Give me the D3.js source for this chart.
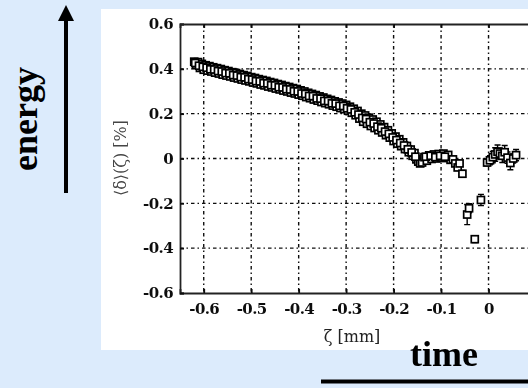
<!DOCTYPE html>
<html>
<head>
<meta charset="utf-8">
<script src="https://cdn.jsdelivr.net/npm/d3@7"></script>
<style>
  html, body { margin: 0; padding: 0; background: #dcebfc; }
  svg { display: block; }
</style>
</head>
<body>
<svg id="fig" width="528" height="388"></svg>
<script>
// Mean energy offset <delta>(zeta) along the bunch, in percent (first pass)
const zeta = [
  -0.620,-0.616,-0.612,-0.608,-0.604,-0.600,-0.596,-0.592,-0.588,-0.584,
  -0.580,-0.576,-0.572,-0.568,-0.564,-0.560,-0.556,-0.552,-0.548,-0.544,
  -0.540,-0.536,-0.532,-0.528,-0.524,-0.520,-0.516,-0.512,-0.508,-0.504,
  -0.500,-0.496,-0.492,-0.488,-0.484,-0.480,-0.476,-0.472,-0.468,-0.464,
  -0.460,-0.456,-0.452,-0.448,-0.444,-0.440,-0.436,-0.432,-0.428,-0.424,
  -0.420,-0.416,-0.412,-0.408,-0.404,-0.400,-0.396,-0.392,-0.388,-0.384,
  -0.380,-0.376,-0.372,-0.368,-0.364,-0.360,-0.356,-0.352,-0.348,-0.344,
  -0.340,-0.336,-0.332,-0.328,-0.324,-0.320,-0.316,-0.312,-0.308,-0.304,
  -0.300,-0.296,-0.292,-0.288,-0.284,-0.280,-0.276,-0.272,-0.268,-0.264,
  -0.260,-0.256,-0.252,-0.248,-0.244,-0.240,-0.236,-0.232,-0.228,-0.224,
  -0.220,-0.216,-0.212,-0.208,-0.204,-0.200,-0.196,-0.192,-0.188,-0.184,
  -0.180,-0.176,-0.172,-0.168,-0.164,-0.160,-0.156,-0.152,-0.148,-0.144,
  -0.140,-0.135,-0.130,-0.125,-0.120,-0.115,-0.110,-0.105,-0.100,-0.095,
  -0.090,-0.085,-0.080,-0.075,-0.070,-0.065
];
const delta = [
   0.432, 0.418, 0.430, 0.404, 0.422, 0.396, 0.416, 0.392, 0.412, 0.388,
   0.407, 0.383, 0.403, 0.379, 0.399, 0.374, 0.394, 0.370, 0.390, 0.366,
   0.385, 0.361, 0.381, 0.357, 0.377, 0.352, 0.372, 0.348, 0.368, 0.344,
   0.363, 0.339, 0.359, 0.335, 0.354, 0.330, 0.350, 0.326, 0.346, 0.321,
   0.341, 0.317, 0.337, 0.312, 0.332, 0.308, 0.328, 0.303, 0.323, 0.299,
   0.319, 0.294, 0.314, 0.290, 0.310, 0.285, 0.304, 0.280, 0.299, 0.274,
   0.293, 0.269, 0.288, 0.263, 0.283, 0.258, 0.277, 0.252, 0.272, 0.247,
   0.266, 0.242, 0.261, 0.236, 0.255, 0.231, 0.250, 0.225, 0.245, 0.220,
   0.239, 0.213, 0.231, 0.204, 0.222, 0.193, 0.212, 0.178, 0.200, 0.164,
   0.192, 0.155, 0.182, 0.145, 0.174, 0.136, 0.164, 0.126, 0.152, 0.116,
   0.140, 0.104, 0.126, 0.093, 0.112, 0.078, 0.098, 0.066, 0.086, 0.055,
   0.072, 0.042, 0.056, 0.028, 0.040, 0.012, 0.024,-0.004,-0.014,-0.022,
  -0.018, 0.006,-0.010, 0.014,-0.002, 0.018, 0.000, 0.020, 0.004, 0.022,
   0.002, 0.016,-0.006,-0.004,-0.022,-0.040
];

// second pass over the same slices
const zetaB = [
  -0.618,-0.610,-0.602,-0.594,-0.586,-0.578,-0.570,-0.562,-0.554,-0.546,
  -0.538,-0.530,-0.522,-0.514,-0.506,-0.498,-0.490,-0.482,-0.474,-0.466,
  -0.458,-0.450,-0.442,-0.434,-0.426,-0.418,-0.410,-0.402,-0.394,-0.386,
  -0.378,-0.370,-0.362,-0.354,-0.346,-0.338,-0.330,-0.322,-0.314,-0.306,
  -0.298,-0.290,-0.282,-0.274,-0.266,-0.258,-0.250,-0.242,-0.234,-0.226,
  -0.218,-0.210,-0.202,-0.194,-0.186,-0.178,-0.170,-0.162,-0.154,-0.132,
  -0.122,-0.112,-0.102,-0.092
];
const deltaB = [
   0.426, 0.414, 0.409, 0.405, 0.398, 0.397, 0.390, 0.388, 0.381, 0.380,
   0.372, 0.370, 0.363, 0.362, 0.354, 0.352, 0.345, 0.344, 0.336, 0.335,
   0.327, 0.326, 0.318, 0.317, 0.309, 0.308, 0.300, 0.299, 0.290, 0.288,
   0.279, 0.278, 0.268, 0.267, 0.257, 0.256, 0.246, 0.245, 0.235, 0.234,
   0.224, 0.219, 0.206, 0.196, 0.181, 0.176, 0.162, 0.156, 0.142, 0.135,
   0.120, 0.110, 0.094, 0.082, 0.069, 0.058, 0.041, 0.027, 0.008, 0.008,
   0.012, 0.006, 0.012, 0.008
];

// Sparse points past the head of the bunch, with their error bars
const tailZeta  = [-0.061,-0.055,-0.045,-0.041,-0.029,-0.016,-0.003, 0.003, 0.009, 0.014, 0.019, 0.024, 0.029, 0.034, 0.040, 0.046, 0.052, 0.058];
const tailDelta = [-0.022,-0.068,-0.250,-0.222,-0.360,-0.185,-0.018,-0.008, 0.006, 0.018, 0.030, 0.022, 0.012, 0.028, 0.004,-0.020, 0.000, 0.015];
const tailErr   = [ 0.012, 0.015, 0.045, 0.020, 0.015, 0.025, 0.015, 0.020, 0.025, 0.030, 0.030, 0.025, 0.030, 0.030, 0.025, 0.030, 0.020, 0.025];

const zetaTicks  = [-0.6, -0.5, -0.4, -0.3, -0.2, -0.1, 0];
const deltaTicks = [-0.6, -0.4, -0.2, 0, 0.2, 0.4, 0.6];
const zetaLabels  = ["-0.6", "-0.5", "-0.4", "-0.3", "-0.2", "-0.1", "0"];
const deltaLabels = ["-0.6", "-0.4", "-0.2", "0", "0.2", "0.4", "0.6"];

const svg = d3.select("#fig");

// background and the white figure panel
svg.append("rect").attr("width", 528).attr("height", 388).attr("fill", "#dcebfc");
svg.append("rect").attr("x", 101).attr("y", 9).attr("width", 427).attr("height", 341).attr("fill", "#ffffff");

const defs = svg.append("defs");
defs.append("filter").attr("id", "soft")
  .attr("x", "-5%").attr("y", "-5%").attr("width", "110%").attr("height", "110%")
  .append("feGaussianBlur").attr("stdDeviation", 0.55);
defs.append("clipPath").attr("id", "panel")
  .append("rect").attr("x", 101).attr("y", 9).attr("width", 427).attr("height", 341);

const x = d3.scaleLinear().domain([-0.65, 0.1]).range([180, 536]);
const y = d3.scaleLinear().domain([-0.6, 0.6]).range([293, 24]);

const chart = svg.append("g").attr("clip-path", "url(#panel)")
  .append("g").attr("filter", "url(#soft)");

// dash-dot grid
const grid = chart.append("g").attr("stroke", "#111").attr("stroke-width", 1.4)
  .attr("stroke-dasharray", "3.5,3,1.5,3");
grid.selectAll("line.v").data(zetaTicks).join("line").attr("class", "v")
  .attr("x1", d => x(d)).attr("x2", d => x(d)).attr("y1", y(0.6)).attr("y2", y(-0.6));
grid.selectAll("line.h").data(deltaTicks.slice(1, -1)).join("line").attr("class", "h")
  .attr("x1", x(-0.65)).attr("x2", x(0.1)).attr("y1", d => y(d)).attr("y2", d => y(d));

// axes with inward ticks
const tickFont = "'DejaVu Serif', serif";
const axisBottomG = chart.append("g").attr("transform", `translate(0,${y(-0.6)})`)
  .call(d3.axisBottom(x).tickValues(zetaTicks).tickSize(-4).tickPadding(10)
    .tickFormat((d, i) => zetaLabels[i]));
const axisLeftG = chart.append("g").attr("transform", `translate(${x(-0.65)},0)`)
  .call(d3.axisLeft(y).tickValues(deltaTicks).tickSize(-4).tickPadding(7)
    .tickFormat((d, i) => deltaLabels[i]));
const axisTopG = chart.append("g").attr("transform", `translate(0,${y(0.6)})`)
  .call(d3.axisTop(x).tickValues(zetaTicks).tickSize(-4).tickFormat(""));
[axisBottomG, axisLeftG, axisTopG].forEach(g => {
  g.select(".domain").attr("stroke", "#222").attr("stroke-width", 1.8);
  g.selectAll(".tick line").attr("stroke", "#111").attr("stroke-width", 1.8);
  g.selectAll(".tick text").attr("fill", "#111").style("font-family", tickFont)
    .style("font-size", "15px").style("font-weight", "bold").attr("letter-spacing", "-0.6");
});

// axis titles
chart.append("text").attr("x", 352).attr("y", 342).attr("text-anchor", "middle")
  .style("font-family", tickFont).style("font-size", "16px").attr("fill", "#222")
  .text("ζ [mm]");
chart.append("text").attr("transform", "translate(126,158) rotate(-90)")
  .attr("text-anchor", "middle").style("font-family", tickFont).style("font-size", "16px")
  .attr("fill", "#444").text("⟨δ⟩(ζ) [%]");

// markers with error bars
const pts = zeta.map((z, i) => ({ z, d: delta[i], e: 0.008 }))
  .concat(zetaB.map((z, i) => ({ z, d: deltaB[i], e: 0.008 })))
  .concat(tailZeta.map((z, i) => ({ z, d: tailDelta[i], e: tailErr[i] })));
const marks = chart.append("g");
marks.selectAll("path.err").data(pts).join("path").attr("class", "err")
  .attr("fill", "none").attr("stroke", "#000").attr("stroke-width", 1.4)
  .attr("d", p => {
    const cx = x(p.z), y1 = y(p.d + p.e), y2 = y(p.d - p.e);
    return `M${cx},${y1}V${y2}M${cx - 3},${y1}H${cx + 3}M${cx - 3},${y2}H${cx + 3}`;
  });
marks.selectAll("rect.pt").data(pts).join("rect").attr("class", "pt")
  .attr("x", p => x(p.z) - 3.5).attr("y", p => y(p.d) - 3.5)
  .attr("width", 7).attr("height", 7)
  .attr("fill", "#fff").attr("stroke", "#000").attr("stroke-width", 1.7);

// annotations: energy arrow and time underline
const serif = "'Liberation Serif', 'Times New Roman', serif";
svg.append("line").attr("x1", 66).attr("x2", 66).attr("y1", 193).attr("y2", 18)
  .attr("stroke", "#000").attr("stroke-width", 4);
svg.append("path").attr("d", "M66,5 L74,21 L58,21 Z").attr("fill", "#000");
svg.append("text").attr("transform", "translate(37,119) rotate(-90)")
  .attr("text-anchor", "middle").style("font-family", serif).style("font-weight", "bold")
  .style("font-size", "36px").attr("fill", "#000").text("energy");
svg.append("text").attr("x", 444).attr("y", 366).attr("text-anchor", "middle")
  .style("font-family", serif).style("font-weight", "bold").style("font-size", "36px")
  .attr("fill", "#000").text("time");
svg.append("line").attr("x1", 321).attr("x2", 528).attr("y1", 381.5).attr("y2", 381.5)
  .attr("stroke", "#000").attr("stroke-width", 4);
</script>
</body>
</html>
